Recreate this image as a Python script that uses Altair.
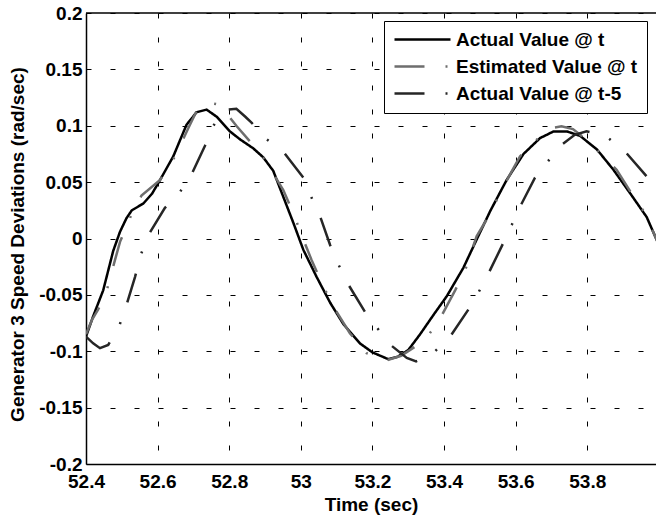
import altair as alt
import pandas as pd

# ---- data ----
series_names = ["Actual Value @ t", "Estimated Value @ t", "Actual Value @ t-5"]

t_actual = [52.400, 52.420, 52.448, 52.476, 52.495, 52.513, 52.528, 52.560, 52.585, 52.607,
            52.644, 52.665, 52.681, 52.709, 52.737, 52.765, 52.802, 52.830, 52.867, 52.895,
            52.923, 52.951, 52.979, 53.007, 53.044, 53.082, 53.119, 53.165, 53.200, 53.244,
            53.270, 53.300, 53.333, 53.370, 53.408, 53.454, 53.491, 53.530, 53.575, 53.622,
            53.668, 53.706, 53.743, 53.780, 53.827, 53.873, 53.920, 53.966, 53.995]
v_actual = [-0.087, -0.069, -0.046, -0.011, 0.006, 0.018, 0.025, 0.031, 0.040, 0.052,
            0.073, 0.089, 0.101, 0.112, 0.1143, 0.108, 0.095, 0.088, 0.080, 0.072,
            0.060, 0.037, 0.014, -0.010, -0.034, -0.057, -0.076, -0.093, -0.101, -0.107,
            -0.105, -0.099, -0.085, -0.068, -0.051, -0.026, -0.001, 0.025, 0.052, 0.075,
            0.089, 0.095, 0.095, 0.091, 0.079, 0.061, 0.040, 0.019, -0.002]

t_est = [52.400, 52.417, 52.434, 52.458, 52.481, 52.495, 52.528, 52.555, 52.607, 52.649,
         52.686, 52.713, 52.746, 52.774, 52.800, 52.821, 52.886, 52.905, 52.951, 52.979,
         53.007, 53.030, 53.063, 53.096, 53.137, 53.184, 53.240, 53.280, 53.319, 53.356,
         53.389, 53.431, 53.459, 53.491, 53.524, 53.556, 53.589, 53.612, 53.659, 53.700,
         53.728, 53.760, 53.798, 53.845, 53.882, 53.929, 53.961, 53.995]
v_est = [-0.085, -0.072, -0.063, -0.046, -0.019, -0.003, 0.022, 0.038, 0.052, 0.073,
         0.098, 0.1158, 0.1202, 0.1187, 0.108, 0.0995, 0.0758, 0.067, 0.043, 0.0226,
         -0.001, -0.019, -0.0426, -0.063, -0.084, -0.1018, -0.108, -0.104, -0.096, -0.086,
         -0.071, -0.046, -0.028, 0.002, 0.0195, 0.040, 0.0595, 0.0728, 0.0877, 0.098,
         0.0995, 0.097, 0.0877, 0.0728, 0.061, 0.0373, 0.0226, -0.002]

t_delay = [52.400, 52.420, 52.439, 52.462, 52.493, 52.513, 52.537, 52.553, 52.574, 52.620,
           52.660, 52.695, 52.732, 52.755, 52.775, 52.793, 52.820, 52.845, 52.863, 52.905,
           52.951, 53.007, 53.029, 53.054, 53.082, 53.105, 53.133, 53.179, 53.215, 53.249,
           53.296, 53.322, 53.350, 53.375, 53.417, 53.468, 53.496, 53.524, 53.561, 53.589,
           53.612, 53.654, 53.689, 53.728, 53.765, 53.798, 53.830, 53.859, 53.906, 53.966,
           53.995]
v_delay = [-0.087, -0.093, -0.0973, -0.0944, -0.0775, -0.059, -0.034, -0.0145, 0.003, 0.027,
           0.040, 0.057, 0.082, 0.0995, 0.110, 0.1143, 0.115, 0.108, 0.1025, 0.088,
           0.077, 0.054, 0.037, 0.0195, -0.006, -0.023, -0.041, -0.065, -0.080, -0.094,
           -0.106, -0.109, -0.105, -0.100, -0.087, -0.063, -0.048, -0.031, -0.007, 0.012,
           0.028, 0.054, 0.068, 0.083, 0.092, 0.095, 0.093, 0.089, 0.077, 0.055,
           0.046]

x_ticks = [52.4, 52.6, 52.8, 53.0, 53.2, 53.4, 53.6, 53.8]
y_ticks = [-0.2, -0.15, -0.1, -0.05, 0, 0.05, 0.1, 0.15, 0.2]
y_top = [0.2]

colors = ["#000000", "#6e6e6e", "#262626"]
dashes = [[1, 0], [30, 21, 2, 21], [30, 21, 2, 21]]

rows = []
for name, ts, vs in zip(series_names, [t_actual, t_est, t_delay], [v_actual, v_est, v_delay]):
    for i, (t, v) in enumerate(zip(ts, vs)):
        rows.append({"series": name, "t": t, "v": v, "i": i})
df = pd.DataFrame(rows)

FONT = "Liberation Sans"
xdom = [52.4, 53.992]
xscale = alt.Scale(domain=xdom, nice=False, zero=False)
yscale = alt.Scale(domain=[-0.2, 0.2], nice=False)

color_enc = alt.Color("series:N", scale=alt.Scale(domain=series_names, range=colors),
                      legend=alt.Legend(title=None))
dash_enc = alt.StrokeDash("series:N", scale=alt.Scale(domain=series_names, range=dashes),
                          legend=alt.Legend(title=None))

y_axis = alt.Axis(values=y_ticks, format="~g",
                  labelExpr="datum.value < 0 ? '-' + format(-datum.value, '~g') : format(datum.value, '~g')",
                  title="Generator 3 Speed Deviations (rad/sec)", grid=True,
                  ticks=False, labelPadding=4, titleY=231, titlePadding=11)
x_axis = alt.Axis(values=x_ticks, format="~g", title="Time (sec)", grid=True,
                  ticks=False, labelPadding=8, labelFlush=False)

lines = alt.Chart(df).mark_line(strokeWidth=2.5, clip=True).encode(
    x=alt.X("t:Q", scale=xscale, axis=x_axis),
    y=alt.Y("v:Q", scale=yscale, axis=y_axis),
    color=color_enc,
    strokeDash=dash_enc,
    order="i:Q",
)

top_border = alt.Chart(pd.DataFrame({"v": y_top})).mark_rule(
    color="black", strokeWidth=1.5
).encode(y=alt.Y("v:Q", scale=yscale))

chart = alt.layer(lines, top_border).properties(
    width=570, height=451,
    autosize=alt.AutoSizeParams(type="none"),
    padding={"left": 86, "top": 13, "right": 0, "bottom": 54},
).configure_view(
    stroke=None
).configure_axis(
    labelFont=FONT, labelFontSize=19, labelFontWeight="bold", labelColor="black",
    titleFont=FONT, titleFontSize=19, titleFontWeight="bold", titleColor="black",
    domainColor="black", domainWidth=1.5,
    gridColor="black", gridWidth=1, gridDash=[5, 19], gridOpacity=1,
    labelOverlap=False,
).configure_legend(
    orient="none", legendX=298, legendY=8,
    padding=9, rowPadding=7, labelOffset=4, clipHeight=19,
    symbolType="stroke", symbolSize=3136, symbolStrokeWidth=2.5,
    labelFont=FONT, labelFontSize=19, labelFontWeight="bold", labelColor="black",
    labelLimit=400, strokeColor="black", fillColor="white", cornerRadius=0,
)

chart.save("out.html", embed_options={"renderer": "svg", "actions": False})
